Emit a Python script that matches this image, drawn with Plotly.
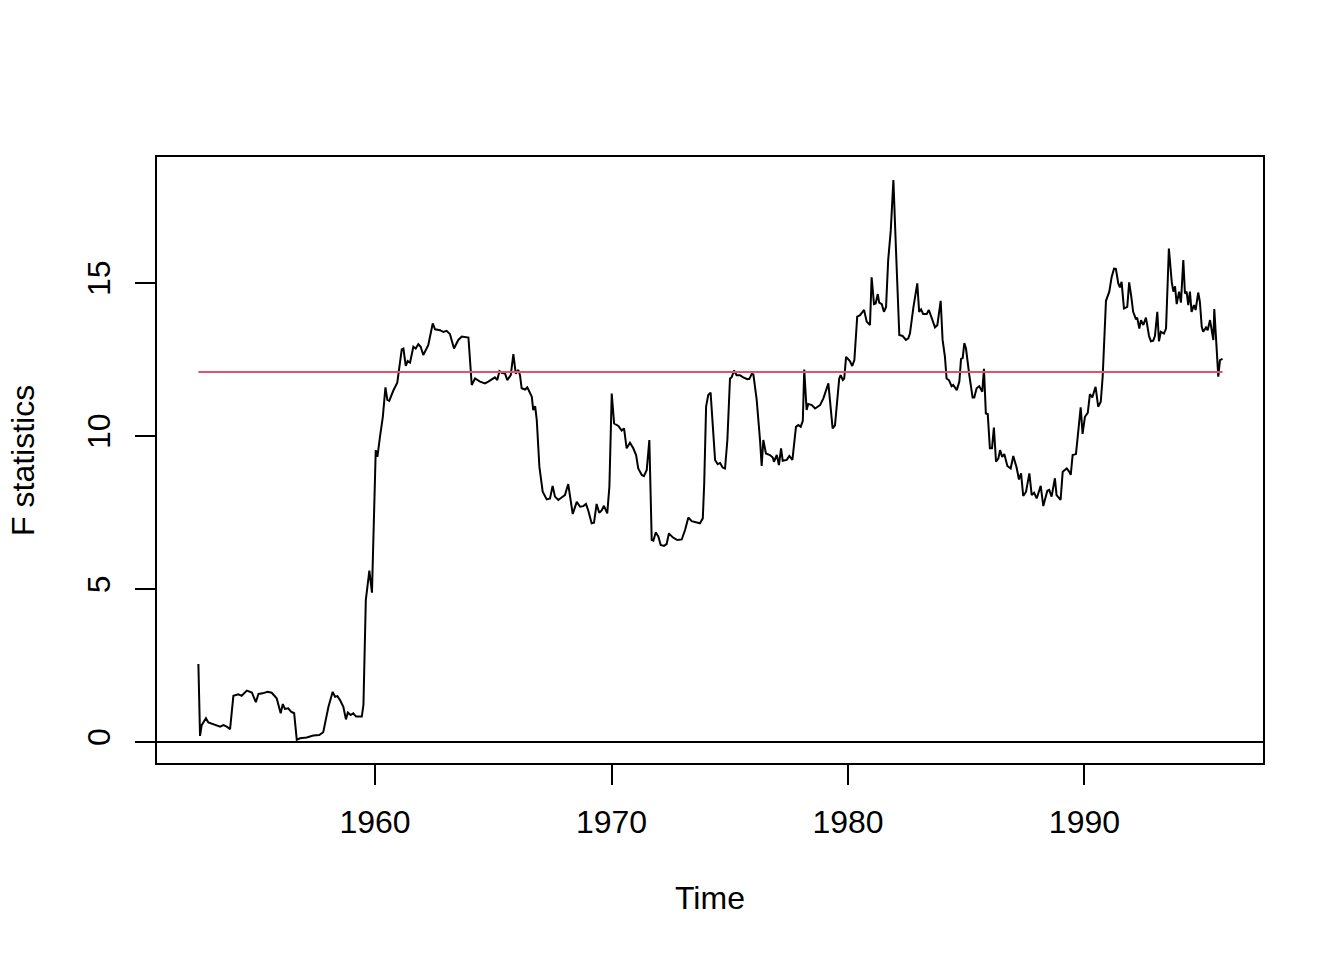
import plotly.graph_objects as go

# F statistics over time
time = [
    1952.53, 1952.60, 1952.67, 1952.85, 1952.95, 1953.16, 1953.45, 1953.59, 1953.73, 1953.87,
    1954.01, 1954.22, 1954.36, 1954.58, 1954.79, 1954.96, 1955.07, 1955.25, 1955.45, 1955.63,
    1955.84, 1956.01, 1956.10, 1956.19, 1956.33, 1956.45, 1956.58, 1956.69, 1956.83, 1957.11,
    1957.39, 1957.64, 1957.81, 1958.03, 1958.21, 1958.31, 1958.41, 1958.52, 1958.66, 1958.77,
    1958.85, 1958.97, 1959.08, 1959.20, 1959.44, 1959.51, 1959.61, 1959.76, 1959.87, 1960.03,
    1960.10, 1960.21, 1960.33, 1960.44, 1960.52, 1960.60, 1960.77, 1960.94, 1961.06, 1961.13,
    1961.20, 1961.30, 1961.38, 1961.48, 1961.62, 1961.72, 1961.83, 1961.93, 1962.04, 1962.25,
    1962.44, 1962.54, 1962.75, 1962.89, 1963.03, 1963.17, 1963.34, 1963.52, 1963.67, 1963.95,
    1964.09, 1964.23, 1964.44, 1964.65, 1964.79, 1964.93, 1965.07, 1965.17, 1965.26, 1965.36,
    1965.50, 1965.59, 1965.74, 1965.85, 1965.95, 1966.06, 1966.13, 1966.20, 1966.34, 1966.44,
    1966.63, 1966.69, 1966.77, 1966.84, 1966.95, 1967.09, 1967.26, 1967.40, 1967.51, 1967.61,
    1967.75, 1967.89, 1968.03, 1968.17, 1968.36, 1968.53, 1968.67, 1968.81, 1968.92, 1969.02,
    1969.16, 1969.26, 1969.37, 1969.48, 1969.59, 1969.68, 1969.82, 1969.91, 1970.01, 1970.11,
    1970.29, 1970.43, 1970.53, 1970.64, 1970.78, 1970.92, 1971.04, 1971.13, 1971.28, 1971.37,
    1971.49, 1971.60, 1971.70, 1971.77, 1971.87, 1971.98, 1972.08, 1972.22, 1972.33, 1972.43,
    1972.59, 1972.78, 1972.97, 1973.11, 1973.25, 1973.39, 1973.60, 1973.74, 1973.86, 1973.92,
    1974.00, 1974.09, 1974.19, 1974.28, 1974.38, 1974.49, 1974.59, 1974.70, 1974.80, 1974.90,
    1975.01, 1975.08, 1975.18, 1975.29, 1975.43, 1975.57, 1975.74, 1975.83, 1975.93, 1976.00,
    1976.14, 1976.28, 1976.35, 1976.42, 1976.53, 1976.70, 1976.82, 1976.87, 1976.99, 1977.08,
    1977.17, 1977.24, 1977.41, 1977.52, 1977.65, 1977.80, 1977.90, 1978.00, 1978.09, 1978.15,
    1978.25, 1978.32, 1978.47, 1978.61, 1978.82, 1978.96, 1979.17, 1979.35, 1979.45, 1979.63,
    1979.69, 1979.78, 1979.84, 1979.92, 1980.08, 1980.18, 1980.27, 1980.39, 1980.51, 1980.68,
    1980.79, 1980.93, 1981.00, 1981.10, 1981.17, 1981.26, 1981.32, 1981.43, 1981.52, 1981.61,
    1981.70, 1981.81, 1981.92, 1982.03, 1982.17, 1982.31, 1982.45, 1982.55, 1982.62, 1982.76,
    1982.93, 1983.01, 1983.09, 1983.18, 1983.33, 1983.42, 1983.54, 1983.68, 1983.78, 1983.92,
    1984.00, 1984.10, 1984.17, 1984.27, 1984.38, 1984.45, 1984.60, 1984.71, 1984.78, 1984.85,
    1984.92, 1984.99, 1985.13, 1985.27, 1985.34, 1985.44, 1985.55, 1985.68, 1985.75, 1985.83,
    1985.91, 1986.00, 1986.09, 1986.17, 1986.26, 1986.36, 1986.43, 1986.52, 1986.61, 1986.74,
    1986.88, 1986.99, 1987.13, 1987.23, 1987.32, 1987.41, 1987.53, 1987.67, 1987.77, 1987.87,
    1987.98, 1988.15, 1988.26, 1988.43, 1988.51, 1988.61, 1988.75, 1988.82, 1988.99, 1989.08,
    1989.25, 1989.36, 1989.42, 1989.50, 1989.64, 1989.74, 1989.84, 1989.92, 1990.02, 1990.14,
    1990.23, 1990.33, 1990.47, 1990.58, 1990.69, 1990.77, 1990.84, 1990.91, 1991.05, 1991.15,
    1991.25, 1991.33, 1991.43, 1991.50, 1991.57, 1991.67, 1991.81, 1991.89, 1991.97, 1992.06,
    1992.18, 1992.23, 1992.32, 1992.39, 1992.49, 1992.60, 1992.73, 1992.81, 1992.91, 1992.98,
    1993.08, 1993.15, 1993.23, 1993.36, 1993.45, 1993.57, 1993.69, 1993.76, 1993.83, 1993.90,
    1994.00, 1994.08, 1994.18, 1994.25, 1994.32, 1994.39, 1994.46, 1994.53, 1994.63, 1994.70,
    1994.81, 1994.88, 1994.96, 1995.02, 1995.14, 1995.21, 1995.31, 1995.40, 1995.45, 1995.49,
    1995.59, 1995.66, 1995.73, 1995.84,
]
fstat = [
    2.55, 0.20, 0.55, 0.78, 0.64, 0.58, 0.50, 0.55, 0.50, 0.42,
    1.51, 1.56, 1.51, 1.68, 1.62, 1.30, 1.57, 1.59, 1.64, 1.61,
    1.43, 0.94, 1.24, 1.08, 1.10, 0.99, 0.94, 0.07, 0.12, 0.15,
    0.21, 0.23, 0.32, 1.15, 1.64, 1.48, 1.50, 1.37, 1.15, 0.74,
    0.96, 0.88, 0.94, 0.83, 0.83, 1.21, 4.64, 5.60, 4.88, 9.54,
    9.32, 9.98, 10.63, 11.59, 11.18, 11.15, 11.48, 11.74, 12.48, 12.83,
    12.86, 12.29, 12.45, 12.40, 12.92, 12.86, 13.00, 12.92, 12.65, 12.97,
    13.68, 13.49, 13.46, 13.40, 13.44, 13.33, 12.86, 13.14, 13.25, 13.22,
    11.67, 11.88, 11.78, 11.72, 11.78, 11.86, 11.92, 11.83, 12.12, 12.07,
    12.04, 11.83, 11.99, 12.68, 12.04, 12.16, 11.99, 11.56, 11.52, 11.59,
    11.28, 10.85, 10.98, 10.52, 9.00, 8.18, 7.93, 7.96, 8.37, 8.02,
    7.91, 7.99, 8.07, 8.43, 7.45, 7.85, 7.69, 7.71, 7.78, 7.56,
    7.15, 7.17, 7.78, 7.49, 7.58, 7.72, 7.47, 8.34, 11.39, 10.41,
    10.33, 10.18, 10.25, 9.60, 9.78, 9.60, 9.38, 8.94, 8.73, 8.69,
    8.89, 9.87, 6.60, 6.58, 6.85, 6.72, 6.44, 6.41, 6.47, 6.82,
    6.69, 6.60, 6.62, 6.93, 7.34, 7.22, 7.18, 7.15, 7.31, 8.45,
    10.96, 11.34, 11.42, 10.52, 9.22, 9.08, 9.12, 8.97, 8.94, 9.87,
    11.88, 11.92, 12.14, 11.99, 11.99, 11.92, 11.86, 11.87, 12.03, 12.01,
    11.18, 9.87, 9.02, 9.87, 9.43, 9.38, 9.30, 9.16, 9.38, 9.05,
    9.60, 9.19, 9.22, 9.35, 9.22, 10.30, 10.36, 10.30, 10.50, 12.17,
    10.85, 11.05, 11.01, 10.90, 11.01, 11.23, 11.72, 10.25, 10.35, 11.88,
    11.99, 11.83, 11.88, 12.59, 12.45, 12.29, 12.48, 13.90, 13.95, 14.12,
    13.74, 13.63, 15.19, 14.31, 14.33, 14.64, 14.36, 14.31, 14.06, 14.22,
    15.75, 16.73, 18.37, 16.08, 13.30, 13.27, 13.14, 13.19, 13.35, 14.17,
    14.99, 14.06, 14.14, 13.99, 13.99, 14.12, 13.85, 13.55, 13.63, 14.42,
    13.15, 12.59, 11.88, 11.83, 11.63, 11.67, 11.50, 11.78, 12.52, 12.55,
    13.04, 12.86, 11.99, 11.26, 11.26, 11.56, 11.63, 11.45, 12.20, 10.74,
    10.72, 9.60, 9.60, 10.28, 9.16, 9.27, 9.54, 9.32, 9.41, 9.02,
    8.94, 9.35, 8.97, 8.58, 8.78, 8.04, 8.18, 8.78, 8.07, 8.15,
    7.96, 8.37, 7.71, 8.21, 8.24, 8.02, 8.62, 8.07, 7.91, 8.83,
    8.94, 8.83, 8.73, 9.38, 9.41, 10.20, 10.94, 10.07, 10.63, 10.76,
    11.37, 11.26, 11.61, 10.96, 11.12, 11.94, 13.14, 14.42, 14.72, 15.20,
    15.47, 15.46, 14.99, 14.86, 15.04, 14.17, 14.22, 15.02, 14.61, 14.06,
    13.81, 13.87, 13.51, 13.79, 13.63, 13.87, 13.27, 13.10, 13.12, 13.27,
    14.06, 13.10, 13.41, 13.35, 13.51, 16.13, 15.04, 14.72, 14.89, 14.31,
    14.72, 14.36, 15.75, 14.66, 14.72, 14.28, 14.72, 14.06, 14.28, 14.12,
    14.69, 14.39, 13.57, 13.41, 13.55, 13.46, 13.79, 13.30, 13.14, 14.15,
    12.70, 11.94, 12.48, 12.52,
]
crit_value = 12.09  # boundary

x_ticks = [1960, 1970, 1980, 1990]
y_ticks = [0, 5, 10, 15]

fnt = "Liberation Sans, Arial, Helvetica, sans-serif"

fig = go.Figure()

fig.add_trace(go.Scatter(
    x=time, y=fstat, mode="lines",
    line=dict(color="black", width=2),
    showlegend=False, hoverinfo="skip",
))
# critical value line
fig.add_trace(go.Scatter(
    x=[time[0], time[-1]], y=[crit_value, crit_value], mode="lines",
    line=dict(color="#DF536B", width=2),
    showlegend=False, hoverinfo="skip",
))
# horizontal line at 0
fig.add_shape(type="line", xref="paper", yref="y", x0=0, x1=1, y0=0, y1=0,
              line=dict(color="black", width=2))

# page body has an 8px margin, so the figure is a bit smaller than the window
fig.update_layout(
    width=1336, height=952,
    margin=dict(l=149, r=81, t=149, b=197),
    paper_bgcolor="white", plot_bgcolor="white",
    font=dict(family=fnt, size=32, color="black"),
    xaxis=dict(
        range=[1950.78, 1997.55], tickvals=x_ticks, ticktext=[str(v) for v in x_ticks],
        showgrid=False, zeroline=False,
        showline=True, mirror=True, linecolor="black", linewidth=2,
        ticks="outside", ticklen=20, tickwidth=2, tickcolor="black",
        ticklabelstandoff=10,
    ),
    yaxis=dict(
        range=[-0.686, 19.12], tickvals=y_ticks, ticktext=[str(v) for v in y_ticks],
        showgrid=False, zeroline=False,
        showline=True, mirror=True, linecolor="black", linewidth=2,
        ticks="outside", ticklen=20, tickwidth=2, tickcolor="black",
        tickangle=-90, ticklabelstandoff=12,
    ),
    annotations=[
        dict(text="Time", xref="paper", yref="paper", x=0.5, y=-0.223,
             xanchor="center", yanchor="middle", showarrow=False,
             font=dict(size=32)),
        dict(text="F statistics", xref="paper", yref="paper", x=-0.1212, y=0.5,
             xanchor="center", yanchor="middle", showarrow=False, textangle=-90,
             font=dict(size=32)),
    ],
)

fig.write_html("out.html")
